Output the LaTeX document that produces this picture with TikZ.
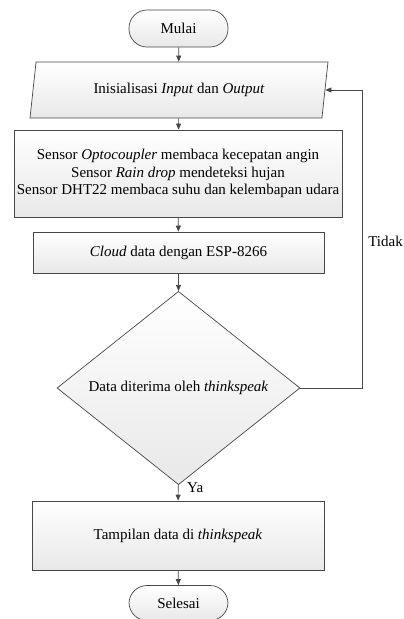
\documentclass[tikz,border=0pt]{standalone}
\usepackage{fontspec}
\setmainfont{Liberation Serif}
\usetikzlibrary{shapes.geometric,arrows.meta}
\begin{document}
\begin{tikzpicture}[x=1pt,y=-1pt,
  font=\fontsize{15}{17.5}\selectfont,
  shapefill/.style={draw=black!72, line width=0.7pt, top color=white, bottom color=black!9},
  terminal/.style={shapefill, rectangle, rounded corners=18pt, minimum width=99pt, minimum height=37pt, inner sep=0pt},
  procbox/.style={shapefill, rectangle, align=center, inner sep=0pt},
  iobox/.style={shapefill, trapezium, trapezium left angle=66, trapezium right angle=114, trapezium stretches body, minimum width=298pt, minimum height=56pt, inner sep=0pt},
  decision/.style={shapefill, diamond, minimum width=243pt, minimum height=186pt, inner sep=0pt},
  arr/.style={draw=black!72, line width=0.7pt, -{Triangle[length=6pt,width=5pt]}},
  lbl/.style={inner sep=0pt}
]
\useasboundingbox (0,0) rectangle (404,619);
\node[terminal] (mulai) at (178.5,28.5) {Mulai};
\node[iobox] (io) at (179,90) {Inisialisasi \textit{Input} dan \textit{Output}};
\node[procbox, minimum width=328pt, minimum height=87pt] (sensor) at (178,173.5) {Sensor \textit{Optocoupler} membaca kecepatan angin\\Sensor \textit{Rain drop} mendeteksi hujan\\Sensor DHT22 membaca suhu dan kelembapan udara};
\node[procbox, minimum width=291pt, minimum height=41pt] (cloud) at (178.5,252.5) {\textit{Cloud} data dengan ESP-8266};
\node[decision] (dec) at (178.5,388) {Data diterima oleh \textit{thinkspeak}};
\node[procbox, minimum width=292pt, minimum height=69pt] (tampil) at (178,535.5) {Tampilan data di \textit{thinkspeak}};
\node[terminal, minimum height=35pt] (selesai) at (178.5,603) {Selesai};
\coordinate (fb) at (362,388);
\node[lbl, anchor=east] (tidak) at (403,241) {Tidak};
\node[lbl, anchor=west] (ya) at (187,488) {Ya};

\draw[arr] (mulai) -- (io);
\draw[arr] (io) -- (sensor);
\draw[arr] (sensor) -- (cloud);
\draw[arr] (cloud) -- (dec);
\draw[arr] (dec) -- (tampil);
\draw[arr] (tampil) -- (selesai);
\draw[arr] (dec.east) -- (fb) |- (io.east);
\end{tikzpicture}
\end{document}
